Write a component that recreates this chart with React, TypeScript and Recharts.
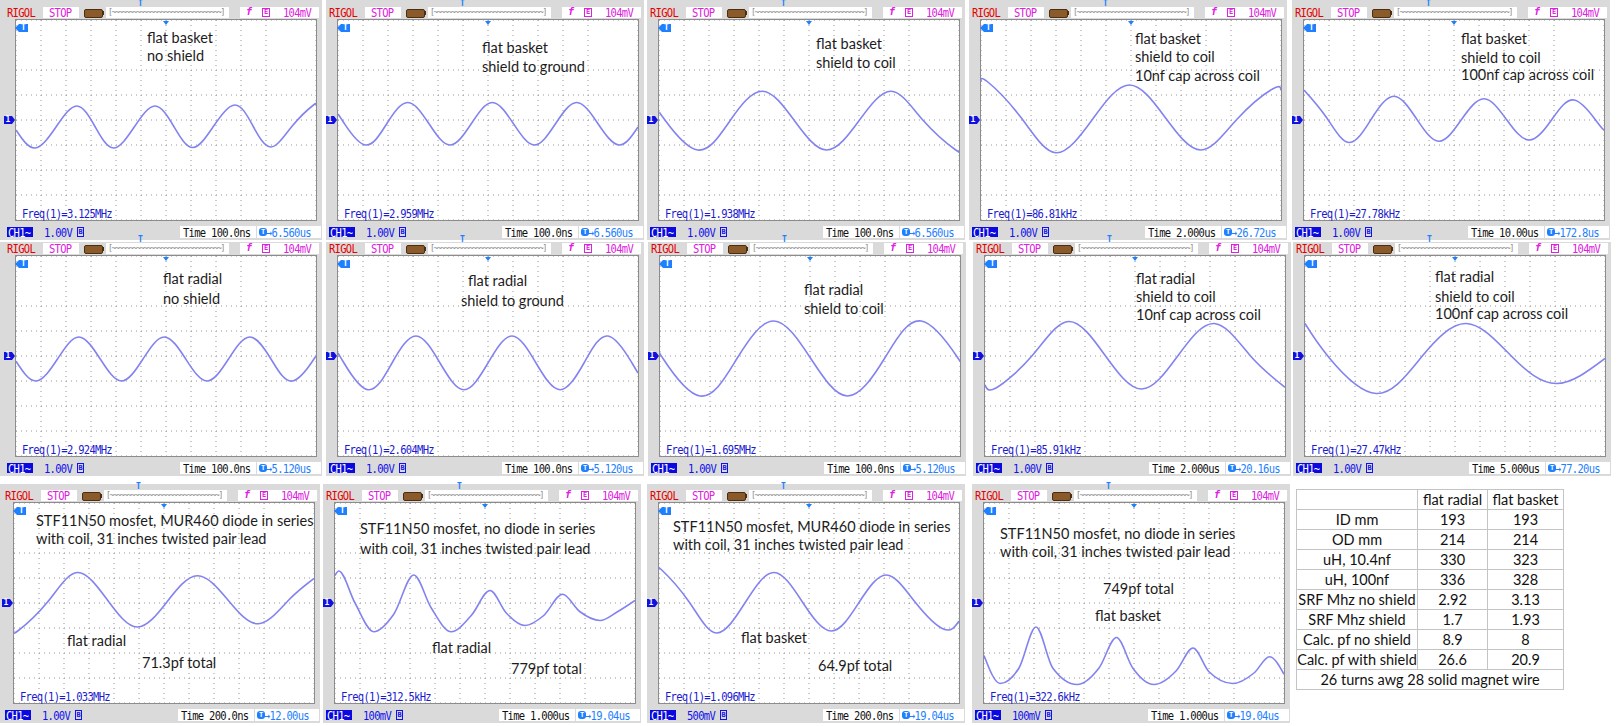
import React from 'react';
import { LineChart, Line, XAxis, YAxis, CartesianGrid } from 'recharts';

// ---------- data (time in divisions 0..12, value in divisions -4..4) ----------
const divX = [0, 1, 2, 3, 4, 5, 6, 7, 8, 9, 10, 11, 12];
const divY = [-4, -3, -2, -1, 0, 1, 2, 3, 4];

const basketNoShield = [[0,-0.4],[0.76,-1.12],[1.6,-0.28],[2.43,0.56],[3.17,-0.28],[3.9,-1.12],[4.73,-0.28],[5.56,0.56],[6.32,-0.27],[7.07,-1.1],[7.9,-0.25],[8.76,0.6],[9.48,-0.24],[10.2,-1.08],[11.05,-0.24],[11.9,0.6],[12,0.59]];
const basketGround = [[0,0.24],[0.26,-0.15],[1.1,-1.0],[1.95,-0.15],[2.79,0.7],[3.64,-0.15],[4.48,-1.0],[5.33,-0.15],[6.17,0.7],[7.02,-0.15],[7.86,-1.0],[8.7,-0.15],[9.55,0.7],[10.4,-0.15],[11.24,-1.0],[12,-0.28]];
const basketCoil = [[0,0.33],[0.26,-0.03],[1.55,-1.2],[2.84,-0.03],[4.13,1.15],[5.42,-0.03],[6.71,-1.2],[8.0,-0.03],[9.29,1.15],[10.58,-0.03],[11.87,-1.2],[12,-1.19]];
const basket10nf = [[0,1.52],[0.25,1.54],[1.6,0.1],[3.0,-1.31],[4.47,0.04],[5.93,1.4],[7.37,0.1],[8.8,-1.2],[10.23,0.02],[11.66,1.24],[12,1.2]];
const basket100nf = [[0,1.2],[0.9,0.1],[1.8,-0.9],[2.7,0.05],[3.6,0.95],[4.5,0.05],[5.4,-0.85],[6.3,0.02],[7.2,0.85],[8.1,0.02],[9.0,-0.8],[9.9,0.0],[10.8,0.8],[11.7,-0.05],[12,-0.4]];

const radialNoShield = [[0,-0.21],[0.8,-1.0],[1.66,-0.12],[2.51,0.76],[3.37,-0.12],[4.22,-1.0],[5.08,-0.12],[5.93,0.76],[6.79,-0.12],[7.64,-1.0],[8.5,-0.12],[9.35,0.76],[10.2,-0.12],[11.06,-1.0],[11.92,-0.12],[12,0.0]];
const radialGround = [[0,0.13],[0.24,-0.28],[1.2,-1.35],[2.16,-0.28],[3.12,0.8],[4.08,-0.28],[5.04,-1.35],[6.0,-0.28],[6.96,0.8],[7.92,-0.28],[8.88,-1.35],[9.84,-0.28],[10.8,0.8],[11.76,-0.28],[12,-0.68]];
const radialCoil = [[0,0.1],[0.12,-0.1],[1.6,-1.6],[3.08,-0.1],[4.55,1.4],[6.03,-0.1],[7.5,-1.6],[8.98,-0.1],[10.45,1.4],[11.93,-0.1],[12,-0.18]];
const radial10nf = [[0,-1.15],[0.44,-1.28],[1.9,0.03],[3.35,1.38],[4.8,0.03],[6.26,-1.32],[7.71,0.0],[9.17,1.3],[10.62,0.0],[12,-1.25]];
const radial100nf = [[0,1.3],[0.95,-0.05],[2.85,-1.5],[4.65,-0.05],[6.45,1.3],[8.25,0.0],[10.05,-1.1],[12,-0.1]];

const diodeRadial = [[0,-1.1],[0.15,-1.12],[1.35,0.05],[2.53,1.22],[3.73,0.13],[4.93,-0.96],[6.13,0.06],[7.33,1.09],[8.55,0.13],[9.77,-0.83],[10.97,0.1],[12,0.98]];
const noDiodeRadial = [[0,1.1],[0.15,1.28],[0.8,0.0],[1.55,-1.15],[2.35,-0.45],[3.15,1.12],[3.85,-0.2],[4.65,-1.15],[5.45,-0.5],[6.2,0.5],[6.85,-0.4],[7.6,-0.9],[8.35,-0.5],[9.1,0.35],[9.8,-0.35],[10.6,-0.7],[11.3,-0.35],[12,0.1]];
const diodeBasket = [[0,1.32],[0.1,1.33],[1.2,0.05],[2.3,-1.2],[3.45,0.02],[4.6,1.22],[5.75,0.02],[6.9,-1.12],[8.0,0.02],[9.1,1.12],[10.25,0.03],[11.4,-1.05],[12,-0.72]];
const noDiodeBasket = [[0,-2.1],[0.65,-3.22],[1.4,-2.6],[2.08,-0.96],[2.75,-2.6],[3.72,-3.26],[4.6,-2.6],[5.3,-1.38],[5.95,-2.6],[6.8,-3.26],[7.7,-2.7],[8.36,-1.8],[9.0,-2.75],[9.95,-3.22],[10.8,-2.8],[11.42,-2.15],[12,-2.85]];

const freqs = ['3.125MHz','2.959MHz','1.938MHz','86.81kHz','27.78kHz','2.924MHz','2.604MHz','1.695MHz','85.91kHz','27.47kHz','1.033MHz','312.5kHz','1.096MHz','322.6kHz'];
const volts = ['1.00V','1.00V','1.00V','1.00V','1.00V','1.00V','1.00V','1.00V','1.00V','1.00V','1.00V','100mV','500mV','100mV'];
const times = ['100.0ns','100.0ns','100.0ns','2.000us','10.00us','100.0ns','100.0ns','100.0ns','2.000us','5.000us','200.0ns','1.000us','200.0ns','1.000us'];
const tpos = ['6.560us','6.560us','6.560us','26.72us','172.8us','5.120us','5.120us','5.120us','20.16us','77.20us','12.00us','19.04us','19.04us','19.04us'];
const waves = [basketNoShield, basketGround, basketCoil, basket10nf, basket100nf, radialNoShield, radialGround, radialCoil, radial10nf, radial100nf, diodeRadial, noDiodeRadial, diodeBasket, noDiodeBasket];

const tableHead = ['', 'flat radial', 'flat basket'];
const tableRows = [
  ['ID mm', '193', '193'],
  ['OD mm', '214', '214'],
  ['uH, 10.4nf', '330', '323'],
  ['uH, 100nf', '336', '328'],
  ['SRF Mhz no shield', '2.92', '3.13'],
  ['SRF Mhz shield', '1.7', '1.93'],
  ['Calc. pf no shield', '8.9', '8'],
  ['Calc. pf with shield', '26.6', '20.9'],
];
const tableFoot = '26 turns awg 28 solid magnet wire';

// ---------- layout ----------
const layout = [
  { gx: 16, gy: 20, top: 0 }, { gx: 338, gy: 20, top: 0 }, { gx: 659, gy: 20, top: 0 }, { gx: 981, gy: 20, top: 0 }, { gx: 1304, gy: 20, top: 0 },
  { gx: 16, gy: 256, top: 242 }, { gx: 338, gy: 256, top: 242 }, { gx: 660, gy: 256, top: 242 }, { gx: 985, gy: 256, top: 242 }, { gx: 1305, gy: 256, top: 242 },
  { gx: 14, gy: 503, top: 484 }, { gx: 335, gy: 503, top: 484 }, { gx: 659, gy: 503, top: 484 }, { gx: 984, gy: 503, top: 484 },
];
const curves = ['natural','natural','natural','natural','natural','natural','natural','natural','natural','natural','natural','monotone','natural','monotone'];

const labels: { x: number; cy: number; s: string }[] = [
  { x: 147, cy: 38, s: 'flat basket' }, { x: 147, cy: 56, s: 'no shield' },
  { x: 482, cy: 48, s: 'flat basket' }, { x: 482, cy: 67, s: 'shield to ground' },
  { x: 816, cy: 44, s: 'flat basket' }, { x: 816, cy: 63, s: 'shield to coil' },
  { x: 1135, cy: 39, s: 'flat basket' }, { x: 1135, cy: 57, s: 'shield to coil' }, { x: 1135, cy: 76, s: '10nf cap across coil' },
  { x: 1461, cy: 39, s: 'flat basket' }, { x: 1461, cy: 58, s: 'shield to coil' }, { x: 1461, cy: 75, s: '100nf cap across coil' },
  { x: 163, cy: 279, s: 'flat radial' }, { x: 163, cy: 299, s: 'no shield' },
  { x: 468, cy: 281, s: 'flat radial' }, { x: 461, cy: 301, s: 'shield to ground' },
  { x: 804, cy: 290, s: 'flat radial' }, { x: 804, cy: 309, s: 'shield to coil' },
  { x: 1136, cy: 279, s: 'flat radial' }, { x: 1136, cy: 297, s: 'shield to coil' }, { x: 1136, cy: 315, s: '10nf cap across coil' },
  { x: 1435, cy: 277, s: 'flat radial' }, { x: 1435, cy: 297, s: 'shield to coil' }, { x: 1435, cy: 314, s: '100nf cap across coil' },
  { x: 36, cy: 521, s: 'STF11N50 mosfet, MUR460 diode in series' }, { x: 36, cy: 539, s: 'with coil, 31 inches twisted pair lead' },
  { x: 67, cy: 641, s: 'flat radial' }, { x: 142, cy: 663, s: '71.3pf total' },
  { x: 360, cy: 529, s: 'STF11N50 mosfet, no diode in series' }, { x: 360, cy: 549, s: 'with coil, 31 inches twisted pair lead' },
  { x: 432, cy: 648, s: 'flat radial' }, { x: 511, cy: 669, s: '779pf total' },
  { x: 673, cy: 527, s: 'STF11N50 mosfet, MUR460 diode in series' }, { x: 673, cy: 545, s: 'with coil, 31 inches twisted pair lead' },
  { x: 741, cy: 638, s: 'flat basket' }, { x: 818, cy: 666, s: '64.9pf total' },
  { x: 1000, cy: 534, s: 'STF11N50 mosfet, no diode in series' }, { x: 1000, cy: 552, s: 'with coil, 31 inches twisted pair lead' },
  { x: 1103, cy: 589, s: '749pf total' }, { x: 1095, cy: 616, s: 'flat basket' },
];

const MONO = '"DejaVu Sans Mono", monospace';
const abs = (l: number, t: number, w?: number, h?: number): React.CSSProperties => ({ position: 'absolute', left: l, top: t, width: w, height: h });

function MonoText({ x, cy, color, children, size = 10.5 }: any) {
  return (
    <div style={{ ...abs(x, cy - 6), fontFamily: MONO, fontSize: size, lineHeight: '12px', letterSpacing: -0.7, color, whiteSpace: 'nowrap', transform: 'scaleY(1.22)', transformOrigin: '0 50%' }}>{children}</div>
  );
}

function Scope({ i }: { i: number }) {
  const { gx, gy, top } = layout[i];
  const left = gx < 20 ? 0 : gx - 12;
  const data = waves[i].map(([t, v]) => ({ t, v }));
  return (
    <>
      <div style={{ ...abs(left, top, gx + 306 - left, gy + 220 - top), background: '#dadada' }} />
      {/* header */}
      <MonoText x={gx - 9} cy={gy - 8} color="#e60000">RIGOL</MonoText>
      <div style={{ ...abs(gx + 27, gy - 13, 36, 11), background: '#fff' }} />
      <MonoText x={gx + 33} cy={gy - 8} color="#e020e0">STOP</MonoText>
      <div style={{ ...abs(gx + 68, gy - 11, 17, 7), background: '#8b5a2b', border: '1px solid #4a2e12', borderRadius: 2 }} />
      <div style={{ ...abs(gx + 86, gy - 9, 2, 4), background: '#4a2e12' }} />
      <div style={{ ...abs(gx + 90, gy - 13, 123, 11), background: '#fff' }} />
      <div style={{ ...abs(gx + 92, gy - 13), fontFamily: MONO, fontSize: 8, lineHeight: '11px', color: '#8a8a8a', letterSpacing: -1.3, whiteSpace: 'nowrap' }}>[~~~~~~~~~~~~~~~~~~~~~~~~~~~~~~~]</div>
      <div style={{ ...abs(gx + 122, gy - 20), fontFamily: MONO, fontSize: 8, lineHeight: '8px', color: '#1e7fff', fontWeight: 'bold' }}>T</div>
      <div style={{ ...abs(gx + 224, gy - 13, 79, 11), background: '#fff' }} />
      <div style={{ ...abs(gx + 230, gy - 14), fontFamily: MONO, fontSize: 10, lineHeight: '12px', color: '#e020e0', fontWeight: 'bold', fontStyle: 'italic' }}>f</div>
      <div style={{ ...abs(gx + 246, gy - 12, 8, 9), border: '1px solid #e020e0', boxSizing: 'border-box', fontFamily: MONO, fontSize: 7, lineHeight: '7px', color: '#e020e0', textAlign: 'center', fontWeight: 'bold' }}>E</div>
      <MonoText x={gx + 267} cy={gy - 8} color="#e020e0">104mV</MonoText>
      {/* grid */}
      <div style={{ ...abs(gx, gy, 300, 200), background: '#fff' }}>
        <LineChart width={300} height={200} data={data} margin={{ top: 0, right: 0, bottom: 0, left: 0 }}>
          <CartesianGrid stroke="#969696" strokeDasharray="1 4" />
          <XAxis dataKey="t" type="number" domain={[0, 12]} ticks={divX} hide />
          <YAxis type="number" domain={[-4, 4]} ticks={divY} hide />
          <Line type={curves[i] as any} dataKey="v" stroke="#8383f0" strokeWidth={1.6} dot={false} isAnimationActive={false} />
        </LineChart>
      </div>
      <div style={{ ...abs(gx - 1, gy - 1, 302, 202), border: '1px solid #8c8c8c', boxSizing: 'border-box' }} />
      {/* markers */}
      <div style={{ ...abs(gx + 3, gy + 4, 9, 8), background: '#1e7fff', color: '#fff', fontFamily: MONO, fontSize: 8, lineHeight: '8px', textAlign: 'center', fontWeight: 'bold' }}>T</div>
      <div style={{ ...abs(gx - 1, gy + 4, 0, 0), borderTop: '4px solid transparent', borderBottom: '4px solid transparent', borderRight: '4px solid #1e7fff' }} />
      <div style={{ ...abs(gx + 147, gy + 1, 0, 0), borderLeft: '3.5px solid transparent', borderRight: '3.5px solid transparent', borderTop: '4px solid #1e7fff' }} />
      <div style={{ ...abs(gx - 12, gy + 96, 8, 8), background: '#1010e0', color: '#fff', fontFamily: MONO, fontSize: 8, lineHeight: '8px', textAlign: 'center', fontWeight: 'bold' }}>1</div>
      <div style={{ ...abs(gx - 4, gy + 96, 0, 0), borderTop: '4px solid transparent', borderBottom: '4px solid transparent', borderLeft: '3px solid #1010e0' }} />
      {/* freq */}
      <MonoText x={gx + 6} cy={gy + 193} color="#1a1ad0">{'Freq(1)=' + freqs[i]}</MonoText>
      {/* footer */}
      <div style={{ ...abs(gx - 9, gy + 207, 26, 10), background: '#0a0ae0' }} />
      <MonoText x={gx - 8} cy={gy + 212} color="#fff">CH1~</MonoText>
      <MonoText x={gx + 28} cy={gy + 212} color="#1010f0">{volts[i]}</MonoText>
      <div style={{ ...abs(gx + 61, gy + 207, 7, 10), border: '1px solid #1010f0', boxSizing: 'border-box', fontFamily: MONO, fontSize: 7, lineHeight: '8px', color: '#1010f0', textAlign: 'center', fontWeight: 'bold' }}>B</div>
      <div style={{ ...abs(gx + 164, gy + 206, 76, 12), background: '#fff' }} />
      <MonoText x={gx + 167} cy={gy + 212} color="#111">{'Time ' + times[i]}</MonoText>
      <div style={{ ...abs(gx + 241, gy + 206, 64, 12), background: '#fff' }} />
      <div style={{ ...abs(gx + 243, gy + 208, 8, 8), background: '#1e7fff', borderRadius: 3, color: '#fff', fontFamily: MONO, fontSize: 7, lineHeight: '8px', textAlign: 'center', fontWeight: 'bold' }}>T</div>
      <MonoText x={gx + 250} cy={gy + 212} color="#1e7fff">{'\u2192' + tpos[i]}</MonoText>
    </>
  );
}

export default function App() {
  const cell: React.CSSProperties = { border: '1px solid #c4c4c4', height: 19, padding: 0, textAlign: 'center', whiteSpace: 'nowrap' };
  return (
    <div style={{ position: 'absolute', left: 0, top: 0, width: 1620, height: 726, background: '#fff', overflow: 'hidden' }}>
      {layout.map((_, i) => <Scope key={i} i={i} />)}
      {labels.map((l, k) => (
        <div key={k} style={{ ...abs(l.x, l.cy - 9), fontFamily: 'Lato, sans-serif', fontSize: 14.5, lineHeight: '18px', color: '#1c1c1c', whiteSpace: 'nowrap' }}>{l.s}</div>
      ))}
      <table style={{ position: 'absolute', left: 1296, top: 489, borderCollapse: 'collapse', fontFamily: 'Lato, sans-serif', fontSize: 14.5, color: '#111', tableLayout: 'fixed', width: 267 }}>
        <colgroup><col style={{ width: 121 }} /><col style={{ width: 70 }} /><col style={{ width: 76 }} /></colgroup>
        <tbody>
          <tr>{tableHead.map((h, k) => <td key={k} style={cell}>{h}</td>)}</tr>
          {tableRows.map((r, k) => (
            <tr key={k}>{r.map((c, j) => <td key={j} style={cell}>{c}</td>)}</tr>
          ))}
          <tr><td colSpan={3} style={cell}>{tableFoot}</td></tr>
        </tbody>
      </table>
    </div>
  );
}
